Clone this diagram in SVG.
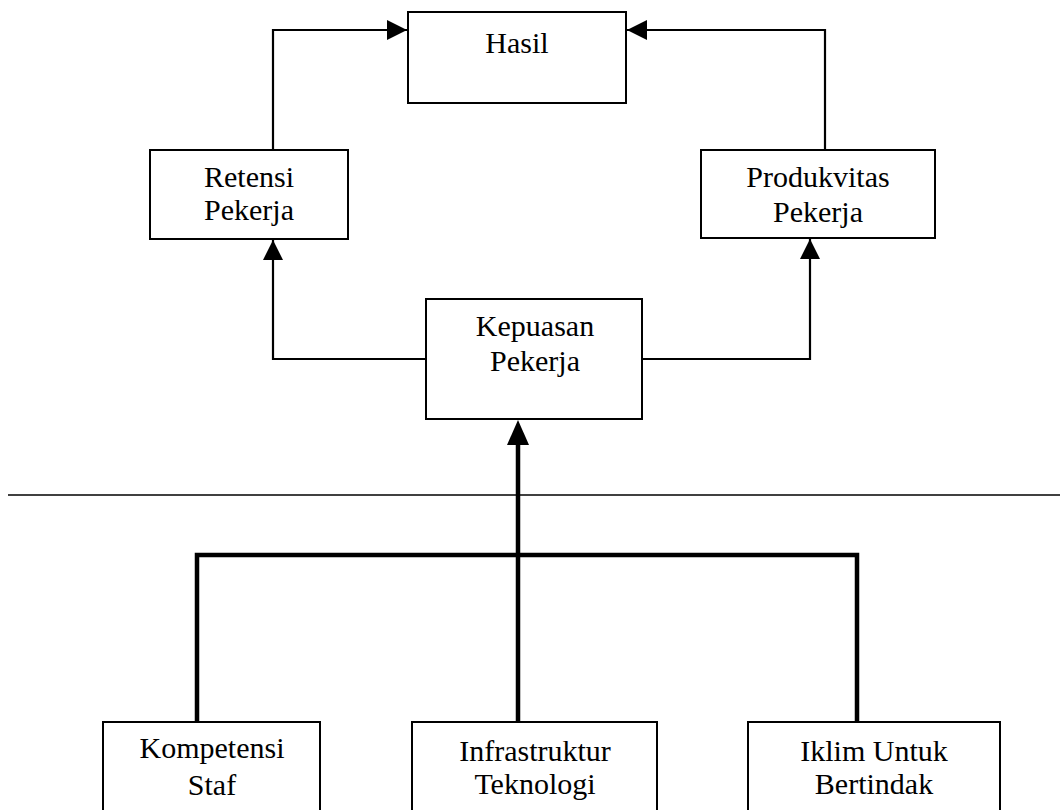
<svg xmlns="http://www.w3.org/2000/svg" width="1060" height="810" viewBox="0 0 1060 810">
<defs>
<style>
.box{fill:#fff;stroke:#000;stroke-width:2}
.t{font-family:"Liberation Serif","Times New Roman",serif;font-size:30px;fill:#000;text-anchor:middle}
.c{fill:none;stroke:#000;stroke-width:2.2}
.thick{fill:none;stroke:#000;stroke-width:4.5}
.rule{fill:none;stroke:#000;stroke-width:1.6}
</style>
<marker id="ah" viewBox="0 0 10 10" refX="10" refY="5" markerUnits="userSpaceOnUse" markerWidth="20" markerHeight="20" orient="auto">
<path d="M0,0 L10,5 L0,10 z" fill="#000"/>
</marker>
</defs>
<rect width="1060" height="810" fill="#fff"/>
<g id="connectors">
<path class="c" d="M273,150 V30 H407" marker-end="url(#ah)"/>
<path class="c" d="M825,150 V30 H627" marker-end="url(#ah)"/>
<path class="c" d="M426,359 H273 V240" marker-end="url(#ah)"/>
<path class="c" d="M642,359 H810 V239" marker-end="url(#ah)"/>
<path class="rule" d="M8,495 H1060"/>
<path class="thick" d="M197,722 V555 H857 V722"/>
<path class="thick" d="M518,722 V435"/>
<path d="M518,420 L507,445 L529,445 z" fill="#000"/>
</g>
<g id="hasil">
<rect class="box" x="408" y="12" width="218" height="91"/>
<text class="t" x="517" y="53">Hasil</text>
</g>
<g id="retensi">
<rect class="box" x="150" y="150" width="198" height="89"/>
<text class="t" x="249" y="187">Retensi</text>
<text class="t" x="249" y="220">Pekerja</text>
</g>
<g id="produkvitas">
<rect class="box" x="701" y="150" width="234" height="88"/>
<text class="t" x="818" y="187">Produkvitas</text>
<text class="t" x="818" y="222">Pekerja</text>
</g>
<g id="kepuasan">
<rect class="box" x="426" y="299" width="216" height="120"/>
<text class="t" x="535" y="336">Kepuasan</text>
<text class="t" x="535" y="371">Pekerja</text>
</g>
<g id="kompetensi">
<rect class="box" x="103" y="722" width="217" height="100"/>
<text class="t" x="212" y="758">Kompetensi</text>
<text class="t" x="212" y="795">Staf</text>
</g>
<g id="infrastruktur">
<rect class="box" x="412" y="722" width="245" height="100"/>
<text class="t" x="535" y="761">Infrastruktur</text>
<text class="t" x="535" y="794">Teknologi</text>
</g>
<g id="iklim">
<rect class="box" x="748" y="722" width="252" height="100"/>
<text class="t" x="874" y="761">Iklim Untuk</text>
<text class="t" x="874" y="794">Bertindak</text>
</g>
</svg>
